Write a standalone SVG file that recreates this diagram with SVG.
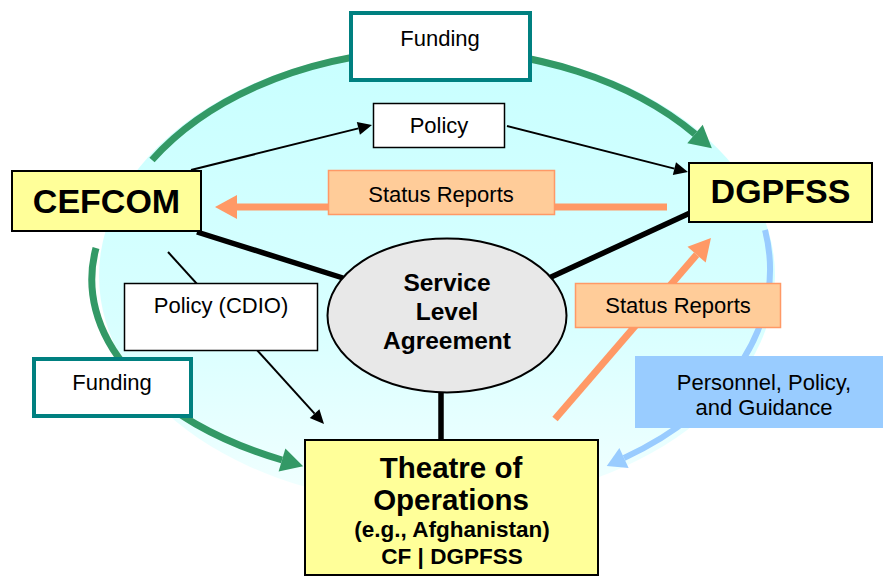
<svg xmlns="http://www.w3.org/2000/svg" width="883" height="576" viewBox="0 0 883 576">
  <defs>
    <linearGradient id="bgFill" x1="0" y1="0" x2="0" y2="1">
      <stop offset="0" stop-color="#c8ffff"/>
      <stop offset="0.6" stop-color="#d8ffff"/>
      <stop offset="1" stop-color="#f2ffff"/>
    </linearGradient>
    <marker id="headGreen" markerUnits="userSpaceOnUse" viewBox="-1 -13 24 26" markerWidth="24" markerHeight="26" refX="0" refY="0" orient="auto" overflow="visible">
      <path d="M0,-12 L22,0 L0,12 z" fill="#339966"/>
    </marker>
    <marker id="headBlue" markerUnits="userSpaceOnUse" viewBox="-1 -12 21 24" markerWidth="21" markerHeight="24" refX="0" refY="0" orient="auto" overflow="visible">
      <path d="M0,-11 L19,0 L0,11 z" fill="#99ccff"/>
    </marker>
    <marker id="headOrange" markerUnits="userSpaceOnUse" viewBox="-1 -13 24 26" markerWidth="24" markerHeight="26" refX="0" refY="0" orient="auto" overflow="visible">
      <path d="M0,-12 L22,0 L0,12 z" fill="#ff9966"/>
    </marker>
    <marker id="headBlack" markerUnits="userSpaceOnUse" viewBox="-1 -8 16 16" markerWidth="16" markerHeight="16" refX="0" refY="0" orient="auto" overflow="visible">
      <path d="M0,-6.5 L14,0 L0,6.5 z" fill="#000"/>
    </marker>
  </defs>
  <style>
    text { font-family: "Liberation Sans", Arial, sans-serif; fill: #000; text-anchor: middle; }
    .t22 { font-size: 22px; }
    .bold { font-weight: bold; }
    .title { font-size: 34px; font-weight: bold; }
    .yellow { fill: #ffff99; stroke: #000; stroke-width: 2; }
    .plain { fill: #fff; stroke: #000; stroke-width: 1.5; }
    .teal { fill: #fff; stroke: #008080; stroke-width: 4; }
    .peach { fill: #ffcc99; stroke: #ff9966; stroke-width: 1.5; }
    .green { fill: none; stroke: #339966; stroke-width: 7; marker-end: url(#headGreen); }
    .blue { fill: none; stroke: #99ccff; stroke-width: 6; marker-end: url(#headBlue); }
    .orange { fill: none; stroke: #ff9966; stroke-width: 7; marker-end: url(#headOrange); }
    .thin { fill: none; stroke: #000; stroke-width: 2; marker-end: url(#headBlack); }
    .thick { fill: none; stroke: #000; stroke-width: 5.5; }
  </style>

  <!-- shared environment -->
  <ellipse id="environment" cx="437" cy="276" rx="338" ry="229" fill="url(#bgFill)"/>

  <g id="connectors">
    <!-- funding and personnel flows around the circle -->
    <path class="green" d="M152,160 A334,230 0 0,1 695,134"/>
    <path class="green" d="M96,248 A345,202 0 0,0 282,460"/>
    <path class="blue" d="M765,230 A330,227 0 0,1 624,458"/>
    <!-- links to the service level agreement -->
    <line class="thick" x1="197" y1="232" x2="343" y2="278"/>
    <line class="thick" x1="690" y1="213" x2="549" y2="278"/>
    <line class="thick" x1="441" y1="390" x2="441" y2="440"/>
    <!-- status report flows -->
    <path class="orange" d="M667,207 L237,207"/>
    <path class="orange" d="M555,419 L696.6,254.7"/>
    <!-- policy flows -->
    <path class="thin" d="M191,170 L358.4,128.4"/>
    <path class="thin" d="M507,126 L674.4,168.6"/>
    <path class="thin" d="M168,252 L314.6,413.6"/>
  </g>

  <g id="funding-top">
    <rect class="teal" x="351" y="13" width="179" height="67"/>
    <text class="t22" x="440" y="46">Funding</text>
  </g>

  <g id="policy-top">
    <rect class="plain" x="373.5" y="103.5" width="131" height="44"/>
    <text class="t22" x="439" y="133">Policy</text>
  </g>

  <g id="status-top">
    <rect class="peach" x="328.5" y="170.5" width="226" height="44"/>
    <text class="t22" x="441" y="202">Status Reports</text>
  </g>

  <g id="cefcom">
    <rect class="yellow" x="12" y="171" width="189" height="60"/>
    <text class="title" x="106.5" y="213">CEFCOM</text>
  </g>

  <g id="dgpfss">
    <rect class="yellow" x="689" y="163" width="183" height="59"/>
    <text class="title" x="780.5" y="203">DGPFSS</text>
  </g>

  <g id="policy-cdio">
    <rect class="plain" x="124.5" y="283.5" width="193" height="67"/>
    <text class="t22" x="221" y="313">Policy (CDIO)</text>
  </g>

  <g id="funding-left">
    <rect class="teal" x="34" y="359" width="157" height="57"/>
    <text class="t22" x="112" y="390">Funding</text>
  </g>

  <g id="status-right">
    <rect class="peach" x="575.5" y="283.5" width="205" height="44"/>
    <text class="t22" x="678" y="313">Status Reports</text>
  </g>

  <g id="personnel">
    <rect x="635" y="356" width="248" height="72" fill="#99ccff"/>
    <text class="t22" x="764" y="390">Personnel, Policy,</text>
    <text class="t22" x="764" y="415">and Guidance</text>
  </g>

  <g id="sla">
    <ellipse cx="447" cy="315.5" rx="119.5" ry="77" fill="#e8e8e8" stroke="#000" stroke-width="2"/>
    <text class="bold" x="447" y="291" font-size="24.5">Service</text>
    <text class="bold" x="447" y="320" font-size="24.5">Level</text>
    <text class="bold" x="447" y="349" font-size="24.5">Agreement</text>
  </g>

  <g id="theatre">
    <rect class="yellow" x="305" y="440" width="293" height="135"/>
    <text class="bold" x="451" y="478" font-size="29.5">Theatre of</text>
    <text class="bold" x="451" y="510" font-size="29.5">Operations</text>
    <text class="bold" x="452" y="537" font-size="22.5">(e.g., Afghanistan)</text>
    <text class="bold" x="452" y="564" font-size="22.5">CF | DGPFSS</text>
  </g>
</svg>
